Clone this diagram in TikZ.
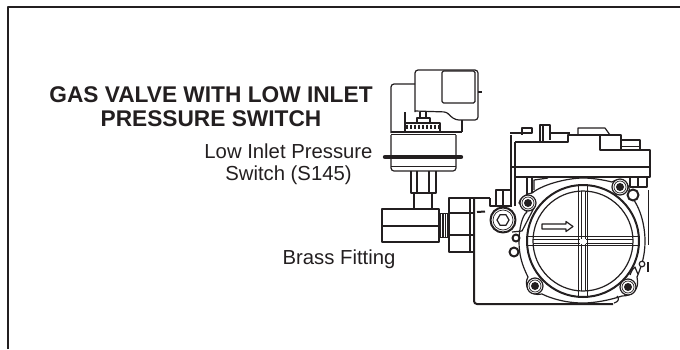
\documentclass[tikz,border=0pt]{standalone}
\usepackage{fontspec}
\setmainfont{Liberation Sans}
\usetikzlibrary{positioning}
\definecolor{ink}{HTML}{231F20}

\begin{document}
\begin{tikzpicture}[x=1pt,y=-1pt,line join=round,
	thin line/.style={draw=ink,line width=0.7pt},
	part/.style={draw=ink,line width=1.2pt},
	heavy/.style={draw=ink,line width=2pt},
	title/.style={font=\bfseries\fontsize{22.7}{24}\selectfont,text=ink,align=center,inner sep=0pt},
	label/.style={font=\fontsize{20.3}{22}\selectfont,text=ink,align=center,inner sep=0pt}]

	\useasboundingbox (0,0) rectangle (680,349);

	% frame
	\draw[draw=ink,line width=2.2pt] (8,349) -- (8,7) -- (680,7);

	% texts
	\node[title] (heading) at (211,106.5) {GAS VALVE WITH LOW INLET\\PRESSURE SWITCH};
	\node[label] (switchlabel) at (288.5,164.5) {Low Inlet Pressure\\Switch (S145)};
	\node[label] (fittinglabel) at (339,259) {Brass Fitting};

	% pressure switch
	\draw[part,rounded corners=3pt] (415,84) -- (391,84) -- (391,133);
	\draw[part,rounded corners=3pt] (415,112) -- (415,70) -- (478,70) -- (478,120) -- (456,120) -- (450,116) -- (447,112) -- (415,111);
	\draw[part,rounded corners=1.5pt] (442,71) rectangle (475,103);
	\draw[heavy] (478,91.5) -- (482,91.5);
	\draw[part] (405,112) -- (405,132) (462,120) -- (462,132);
	\draw[part] (420,112) -- (420,118) -- (426,118) -- (426,112);
	\draw[part] (417,122) -- (417,118) -- (430,118) -- (430,122);
	\draw[part] (405,123) rectangle (440,132);
	\foreach \gearx in {407,411,...,439}
		\draw[draw=ink,line width=1.8pt] (\gearx,124.5) -- (\gearx,129);
	\draw[heavy] (391,132) -- (462,132);
	\draw[thin line] (391,134.5) -- (456,134.5);
	\draw[part,rounded corners=3pt] (391,135) -- (391,171) -- (456,171) -- (456,135);
	\draw[thin line] (391,166) -- (456,166);
	\draw[draw=ink,line width=4.4pt,line cap=round] (385,157) -- (461,157);

	% stem and fitting
	\draw[part] (411,171) -- (411,193) -- (436,193) -- (436,171);
	\draw[part] (417,171) -- (417,193) (429,171) -- (429,193);
	\draw[part] (414,193) -- (414,209) (432,193) -- (432,209);
	\draw[part] (382,209) rectangle (439,242);
	\draw[part] (382,226) -- (439,226);
	\fill[ink] (439,213) rectangle (449,238);
	\foreach \threadx in {441.5,444,446.5}
		\draw[draw=white,line width=0.5pt] (\threadx,214) -- (\threadx,237);
	\draw[part] (449,198) rectangle (474,252);
	\draw[heavy] (449,213) -- (474,213);
	\draw[part] (449,235) -- (474,235) (470,198) -- (470,252);
	\draw[heavy] (477,212) -- (485,211.5);

	% valve body
	\draw[heavy,rounded corners=3pt] (474,198) -- (474,304) -- (613,304);
	\draw[part] (449,198) -- (490,198);
	\draw[heavy] (490,198) -- (490,206) -- (512,206);
	\draw[part] (496,206) -- (496,190) -- (511,190);
	\draw[part] (503,190) -- (503,206);
	\draw[part] (511,206) -- (511,135) (515,206) -- (515,142);
	\draw[thin line] (648,190) -- (648,245);
	\draw[heavy] (648,262) -- (648,272);

	% top housing
	\draw[heavy] (515,142) -- (568,142) -- (568,135) -- (621,135) -- (621,150);
	\draw[heavy] (600,135) -- (600,150) -- (650,150) -- (650,177) -- (515,177);
	\draw[heavy] (511,167) -- (650,167);
	\draw[part] (510,133) -- (532,133) -- (532,128) -- (522,128) -- (522,135);
	\draw[part] (540,142) -- (540,125) -- (550,125) -- (550,140);
	\draw[part] (543,125) -- (543,142);
	\draw[part] (550,133) -- (570,133);
	\draw[part] (578,135) -- (578,128) -- (605,128) -- (610,135);
	\draw[part] (622,140) -- (640,140) -- (640,150);
	\draw[thin line] (622,146) -- (640,146);

	% below the housing
	\draw[part] (527,177) -- (527,196) (532,177) -- (532,196);
	\draw[part] (534,190) -- (534,180) -- (548,178);
	\draw[part] (630,178) -- (630,187) -- (647,187) -- (647,178);
	\draw[part] (638,178) -- (638,187);

	% flange
	\draw[part,fill=white] (519,203) .. controls (519,198) and (528,193) .. (532,193)
		.. controls (545,183) and (570,178) .. (583,178)
		.. controls (595,178) and (608,181) .. (612,182)
		.. controls (620,176) and (632,184) .. (629,194)
		.. controls (640,205) and (645,225) .. (645,241)
		.. controls (645,255) and (642,265) .. (637,277)
		.. controls (640,290) and (632,296) .. (622,296)
		.. controls (610,300) and (595,303) .. (583,303)
		.. controls (565,303) and (550,298) .. (542,294)
		.. controls (530,297) and (523,285) .. (528,277)
		.. controls (522,265) and (519,255) .. (519,241)
		.. controls (519,230) and (522,215) .. (527,212)
		-- cycle;
	\draw[part] (535,206) -- (522,231) -- (512,232);
	\draw[part] (617,296) .. controls (620,299) and (618,302) .. (614,303);
	\draw[part] (630,275) .. controls (632,270) and (633,268) .. (635,267) .. controls (636,270) and (637,272) .. (638,274);

	% throttle bore
	\draw[heavy] (583,241) circle[radius=56];
	\draw[part] (583,241) circle[radius=50];
	\foreach \crossx in {578,587}
		\draw[thin line] (\crossx,186) -- (\crossx,296);
	\foreach \crossy in {236,245}
		\draw[thin line] (528,\crossy) -- (638,\crossy);
	\draw[thin line] (581,191) -- (581,238.5) (585,191) -- (585,238.5);
	\draw[thin line] (581,243.5) -- (581,291) (585,243.5) -- (585,291);
	\draw[thin line] (533,239) -- (580,239) (586,239) -- (633,239);
	\draw[thin line] (533,243) -- (580,243) (586,243) -- (633,243);
	\draw[part] (542,224) -- (566,224) -- (566,221.5) -- (573,226.5) -- (566,231.5) -- (566,229) -- (542,229) -- cycle;

	% bolts
	\foreach \boltx/\bolty in {528/203,620/187,535/286,628/287}{
		\draw[part,fill=white] (\boltx,\bolty) circle[radius=8];
		\draw[thin line] (\boltx,\bolty) circle[radius=6];
		\fill[ink] (\boltx,\bolty) circle[radius=4];
	}
	\draw[heavy,fill=white] (503,220) circle[radius=12.5];
	\draw[thin line] (503,220) circle[radius=10];
	\draw[part] (509,220) -- (506,225.2) -- (500,225.2) -- (497,220) -- (500,214.8) -- (506,214.8) -- cycle;
	\draw[heavy,fill=white] (516,238) circle[radius=3.5];
	\draw[heavy,fill=white] (514,252) circle[radius=4.5];
	\draw[heavy,fill=white] (633,195) circle[radius=5.5];
	\draw[part,fill=white] (642,264) circle[radius=2.8];

\end{tikzpicture}
\end{document}
